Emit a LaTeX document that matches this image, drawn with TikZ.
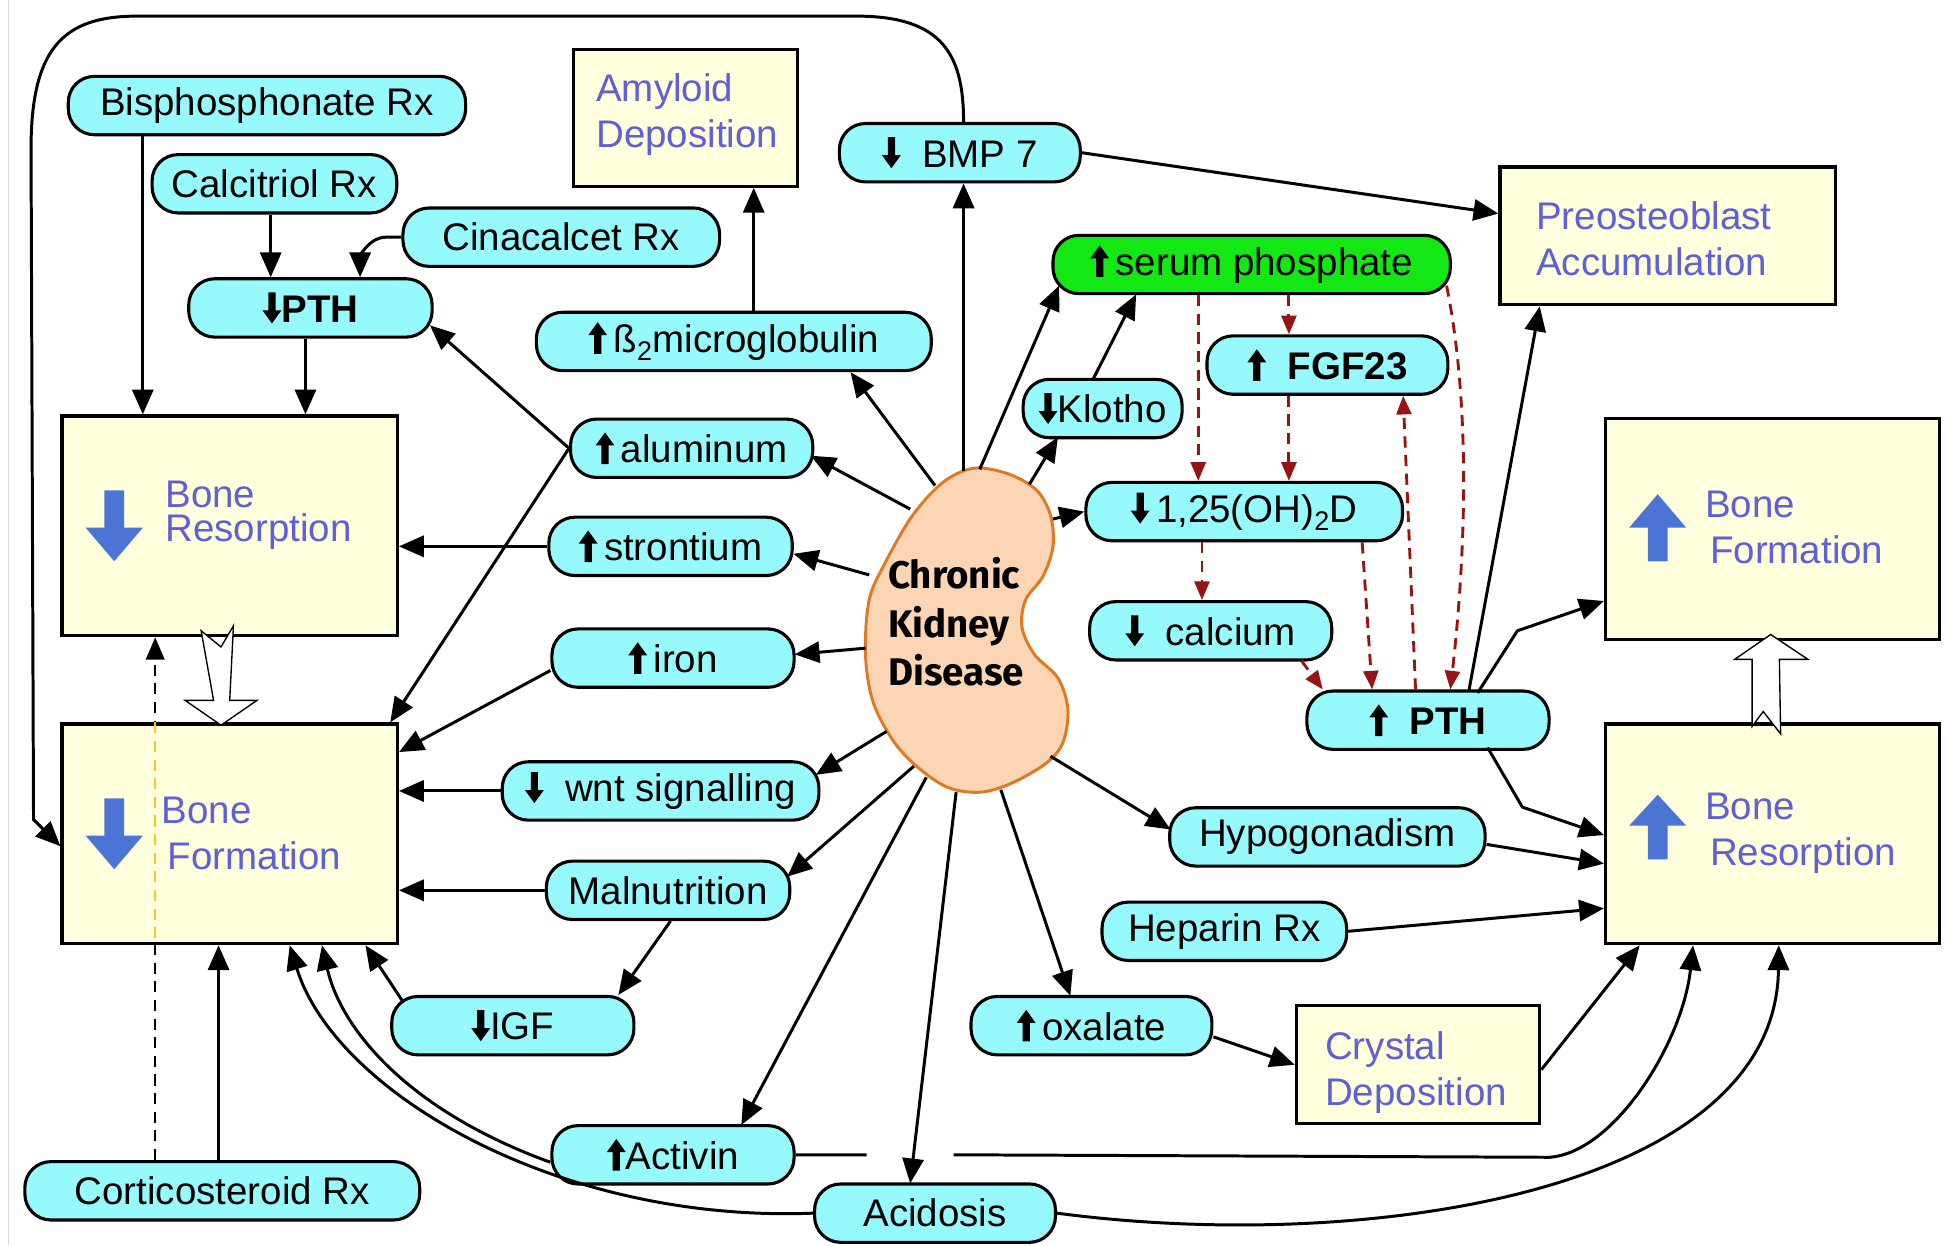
\documentclass[tikz,border=0pt]{standalone}
\usepackage{fontspec}
\setmainfont{Liberation Sans}
\newfontfamily\ckdfont{Fira Sans}
\usetikzlibrary{arrows.meta,calc,shapes.misc}
\pgfdeclarelayer{bg}
\pgfsetlayers{bg,main}
\definecolor{cyanfill}{RGB}{150,250,252}
\definecolor{greenfill}{RGB}{20,232,20}
\definecolor{yfill}{RGB}{255,255,221}
\definecolor{bluetxt}{RGB}{95,95,215}
\definecolor{bluearr}{RGB}{76,116,212}
\definecolor{dred}{RGB}{150,20,20}
\definecolor{kfill}{RGB}{252,214,180}
\definecolor{kline}{RGB}{222,122,36}
\definecolor{ydash}{RGB}{245,200,40}
\newcommand{\mfont}{\fontsize{31}{36}\selectfont}
\newcommand{\UA}{\tikz[x=1pt,y=1pt,baseline=0pt,sharp corners]\fill[black] (-2.9,-1) -- (2.9,-1) -- (2.9,14) -- (7.6,14) -- (0,24.5) -- (-7.6,14) -- (-2.9,14) -- cycle;}
\newcommand{\DA}{\tikz[x=1pt,y=1pt,baseline=0pt,sharp corners]\fill[black] (-2.9,24) -- (2.9,24) -- (2.9,9.5) -- (7.6,9.5) -- (0,-1) -- (-7.6,9.5) -- (-2.9,9.5) -- cycle;}
\begin{document}
\begin{tikzpicture}[x=1pt,y=-1pt,
  pill/.style={draw=black, line width=2.5pt, fill=cyanfill, rounded corners=21pt, minimum height=47pt, inner sep=0pt, font=\mfont},
  ybox/.style={draw=black, line width=2.6pt, fill=yfill, inner sep=0pt},
  btxt/.style={text=bluetxt, align=left, inner sep=0pt, anchor=west, font=\fontsize{31}{37}\selectfont},
  conn/.style={line width=2.4pt, -{Triangle[length=20pt,width=17pt]}},
  dconn/.style={line width=2.3pt, draw=dred, dash pattern=on 9pt off 6pt, -{Triangle[length=15pt,width=12pt,fill=dred]}},
  hollow/.style={fill=white, draw=black, line width=1.1pt, line join=miter},
  barrow/.style={fill=bluearr}
]
\useasboundingbox (0,0) rectangle (1568,1003);
\begin{pgfonlayer}{bg}
\fill[white] (0,0) rectangle (1568,1003);
\end{pgfonlayer}
\draw[black!15, line width=1.2pt] (7,0) -- (7,1003);

% ---------- pills and boxes ----------
\node[pill, minimum width=320pt] (bis) at (215,85) {Bisphosphonate Rx};
\node[pill, minimum width=197pt] (cal) at (221,148) {Calcitriol Rx};
\node[pill, minimum width=255pt] (cin) at (452,191) {Cinacalcet Rx};
\node[pill, minimum width=196pt] (pthd) at (250,248) {\DA\bfseries PTH};
\node[ybox, minimum width=180pt, minimum height=110pt] (amy) at (552,95) {};
\node[pill, minimum width=194pt] (bmp) at (773,123) {\DA\ \ BMP 7};
\node[pill, minimum width=318pt] (b2m) at (591,275) {\UA\,ß\textsubscript{2}microglobulin};
\node[pill, fill=greenfill, minimum width=320pt] (sp) at (1008,213) {\UA\,serum phosphate};
\node[ybox, minimum width=270pt, minimum height=111pt] (pre) at (1343,190) {};
\node[pill, minimum width=194pt] (fgf) at (1069,294) {\UA\ \ \bfseries FGF23};
\node[pill, minimum width=128pt] (klo) at (888,329) {\DA Klotho};
\node[pill, minimum width=195pt] (alu) at (557,361) {\UA\,aluminum};
\node[ybox, minimum width=270pt, minimum height=177pt] (brl) at (185,423.5) {};
\node[pill, minimum width=196pt] (str) at (540,440) {\UA\,strontium};
\node[pill, minimum width=255pt] (vitd) at (1002,412) {\DA\,1,25(OH)\textsubscript{2}D};
\node[pill, minimum width=195pt] (calc) at (975,508) {\DA\ \ calcium};
\node[pill, minimum width=195pt] (iron) at (542,530) {\UA\,iron};
\node[pill, minimum width=195pt] (ptu) at (1150,580) {\UA\ \ \bfseries PTH};
\node[ybox, minimum width=269pt, minimum height=178pt] (bfr) at (1427.5,426) {};
\node[ybox, minimum width=270pt, minimum height=177pt] (bfl) at (185,671.5) {};
\node[pill, minimum width=255pt] (wnt) at (532,637) {\DA\ \ wnt signalling};
\node[pill, minimum width=254pt] (hyp) at (1069,674) {Hypogonadism};
\node[ybox, minimum width=269pt, minimum height=177pt] (brr) at (1427.5,671.5) {};
\node[pill, minimum width=196pt] (mal) at (538,717) {Malnutrition};
\node[pill, minimum width=197pt] (hep) at (986,750) {Heparin Rx};
\node[pill, minimum width=195pt] (igf) at (413,826) {\DA IGF};
\node[pill, minimum width=194pt] (oxa) at (879,826) {\UA\,oxalate};
\node[ybox, minimum width=196pt, minimum height=95pt] (cry) at (1142,857.5) {};
\node[pill, minimum width=195pt] (act) at (542,930) {\UA Activin};
\node[pill, minimum width=318pt] (cor) at (179,959) {Corticosteroid Rx};
\node[pill, minimum width=194pt] (aci) at (753,977) {Acidosis};

% ---------- box texts ----------
\node[btxt] (amyt) at (480,92) {Amyloid\\Deposition};
\node[btxt] (pret) at (1237,192) {Preosteoblast\\Accumulation};
\node[btxt] (cryt) at (1067,864) {Crystal\\Deposition};
\node[btxt, font=\fontsize{31}{28}\selectfont] (brlt) at (133,415) {Bone\\Resorption};
\node[btxt] (bflt) at (130,671) {Bone\\\hspace*{5pt}Formation};
\node[btxt] (bfrt) at (1373,425) {Bone\\\hspace*{4pt}Formation};
\node[btxt] (brrt) at (1373,671) {Bone\\\hspace*{4pt}Resorption};

% blue arrows
\fill[barrow] (84,395) -- (100,395) -- (100,425) -- (115,425) -- (92,452) -- (69,425) -- (84,425) -- cycle;
\fill[barrow] (84,643) -- (100,643) -- (100,673) -- (115,673) -- (92,700) -- (69,673) -- (84,673) -- cycle;
\fill[barrow] (1327,452) -- (1343,452) -- (1343,425) -- (1358,425) -- (1335,398) -- (1312,425) -- (1327,425) -- cycle;
\fill[barrow] (1327,692) -- (1343,692) -- (1343,665) -- (1358,665) -- (1335,640) -- (1312,665) -- (1327,665) -- cycle;

% hollow arrows
\filldraw[hollow] (162,508) -- (178,521) -- (188,504) -- (185,564) -- (207,564) -- (178,584) -- (149,564) -- (172,564) -- cycle;
\filldraw[hollow] (1411,585) -- (1420,573) -- (1434,591) -- (1433,531) -- (1456,531) -- (1426,511) -- (1397,531) -- (1411,531) -- cycle;

% ---------- kidney ----------
\filldraw[fill=kfill, draw=kline, line width=2.4pt] plot[smooth cycle, tension=0.55] coordinates {
 (785,377) (813,382) (835,395) (846,415) (848,440) (840,464) (826,483) (823,505) (833,527) (852,546) (860,571) (856,598) (842,615) (814,631) (789,638) (763,634) (738,617) (719,596) (703,565) (697,527) (700,483) (713,453) (735,415) (760,388)};
\node[font={\ckdfont\bfseries\fontsize{31}{39}\selectfont}, align=left, inner sep=0pt] (ckd) at (770,501) {Chronic\\Kidney\\Disease};
\coordinate (ka) at (753,391);
\coordinate (kb) at (776,379);
\coordinate (kc) at (789,378);
\coordinate (kd) at (829,390);
\coordinate (ke) at (848,418);
\coordinate (kf) at (733,410);
\coordinate (kg) at (700,463);
\coordinate (kh) at (697,522);
\coordinate (ki) at (714,589);
\coordinate (kj) at (736,617);
\coordinate (kk) at (746,626);
\coordinate (kl) at (770,638);
\coordinate (km) at (806,636);
\coordinate (kn) at (846,609);

% helper start points for vertical connectors
\coordinate (s-bis) at ($(bis.south)+(-100,0)$);
\coordinate (s-cal) at ($(cal.south)+(-3,0)$);
\coordinate (s-pthd) at ($(pthd.south)+(-4,0)$);
\coordinate (s-cor1) at ($(cor.north)+(-3,0)$);
\coordinate (s-cor2) at ($(cor.north)+(-54,0)$);
\coordinate (s-b2m) at ($(b2m.north)+(16,0)$);
\coordinate (s-sp1) at ($(sp.south)+(30,0)$);
\coordinate (s-sp2) at ($(sp.south)+(-43,0)$);
\coordinate (s-fgf) at ($(fgf.south)+(-31,0)$);
\coordinate (s-vitd) at ($(vitd.south)+(-34,0)$);

% ---------- connectors ----------
\draw[conn] (s-bis) -- (s-bis |- brl.north);
\draw[conn] (s-cal) -- (s-cal |- pthd.north);
\draw[conn] (cin.west) -- ($(cin.west)+(-12,0)$) to[out=180,in=90] ($(pthd.north)+(40,0)$);
\draw[conn] (s-pthd) -- (s-pthd |- brl.north);
\draw[conn] (alu.west) -- ($(pthd.east)+(-3,14)$);
\draw[conn] (alu.west) -- ($(bfl.north east)+(-7,0)$);
\draw[conn] (str.west) -- (str.west -| brl.east);
\draw[conn] ($(iron.west)+(0,10)$) -- ($(bfl.north east)+(0,24)$);
\draw[conn] (wnt.west) -- (wnt.west -| bfl.east);
\draw[conn] (mal.west) -- (mal.west -| bfl.east);
\draw[conn] ($(mal.south)+(2,0)$) -- ($(igf.north)+(85,0)$);
\draw[conn] ($(igf.north west)+(10,5)$) -- ($(bfl.south east)+(-27,0)$);
\draw[conn] ($(act.west)+(0,6)$) .. controls (330,895) and (275,830) .. ($(bfl.south east)+(-62,0)$);
\draw[conn] (aci.west) .. controls (450,985) and (270,880) .. ($(bfl.south east)+(-88,0)$);
\draw[conn] (s-cor1) -- (s-cor1 |- bfl.south);
\begin{pgfonlayer}{bg}
\draw[line width=1.8pt, dash pattern=on 9pt off 6pt, -{Triangle[length=18pt,width=15pt]}] (s-cor2) -- (s-cor2 |- brl.south);
\end{pgfonlayer}
\draw[ydash, line width=1.8pt, dash pattern=on 9pt off 6pt] (s-cor2 |- bfl.north) -- (s-cor2 |- bfl.south);
\draw[conn] ($(bmp.north)+(3,0)$) .. controls (776,45) and (760,13) .. (690,13) -- (110,13) .. controls (50,13) and (25,40) .. (25,120) -- (27,660) -- ($(bfl.west)+(0,10)$);

% from kidney
\draw[conn] (ka) -- ($(b2m.south)+(94,0)$);
\draw[conn] (kb) -- (kb |- bmp.south);
\draw[conn] (kc) -- ($(sp.center)+(-155,17)$);
\draw[conn] (kd) -- ($(klo.center)+(-36,23)$);
\draw[conn] (ke) -- (vitd.west);
\draw[conn] (kf) -- ($(alu.center)+(96,6)$);
\draw[conn] (kg) -- ($(str.center)+(99,6)$);
\draw[conn] (kh) -- ($(iron.center)+(98,-3)$);
\draw[conn] (ki) -- ($(wnt.center)+(125,-13)$);
\draw[conn] (kj) -- ($(mal.center)+(96,-11)$);
\draw[conn] (kk) -- ($(act.center)+(55,-24)$);
\draw[conn] (kl) -- ($(aci.center)+(-20,-24)$);
\draw[conn] (km) -- ($(oxa.center)+(-17,-24)$);
\draw[conn] (kn) -- ($(hyp.west)+(2,-6)$);

\draw[conn] ($(klo.center)+(-8,-23)$) -- ($(sp.center)+(-93,24)$);
\draw[conn] (s-b2m) -- (s-b2m |- amy.south);
\draw[conn] (bmp.east) -- ($(pre.west)+(0,-18)$);
\draw[conn] ($(ptu.center)+(33,-24)$) -- ($(pre.south)+(-103,0)$);
\draw[conn] ($(ptu.center)+(40,-22)$) -- (1222,508) -- ($(bfr.west)+(0,58)$);
\draw[conn] ($(ptu.center)+(48,22)$) -- (1226,650) -- ($(brr.west)+(0,1)$);
\draw[conn] ($(hyp.east)+(0,6)$) -- ($(brr.west)+(0,24)$);
\draw[conn] (hep.east) -- ($(brr.west)+(0,60)$);
\draw[conn] ($(oxa.east)+(0,9)$) -- (cry.west);
\draw[conn] ($(cry.east)+(0,4)$) -- ($(brr.south)+(-107,0)$);
\draw[conn] (act.east) -- (698,930) (768,930) -- (1248,932) .. controls (1300,928) and (1355,840) .. ($(brr.south)+(-64,0)$);
\draw[conn] (aci.east) .. controls (1100,1010) and (1430,960) .. ($(brr.south)+(5,0)$);

% dashed red
\draw[dconn] (s-sp1) -- (s-sp1 |- fgf.north);
\draw[dconn] (s-sp2) -- (s-sp2 |- vitd.north);
\draw[dconn] ($(sp.center)+(157,17)$) .. controls (1185,330) and (1180,450) .. ($(ptu.north)+(18,0)$);
\draw[dconn] (s-fgf) -- (s-fgf |- vitd.north);
\draw[dconn] (s-vitd) -- (s-vitd |- calc.north);
\draw[dconn] ($(vitd.south)+(95,0)$) -- ($(ptu.north)+(-45,0)$);
\draw[dconn] ($(ptu.north)+(-10,0)$) -- ($(fgf.south)+(61,0)$);
\draw[dconn] ($(calc.center)+(73,24)$) -- ($(ptu.north west)+(14,0)$);
\end{tikzpicture}
\end{document}
